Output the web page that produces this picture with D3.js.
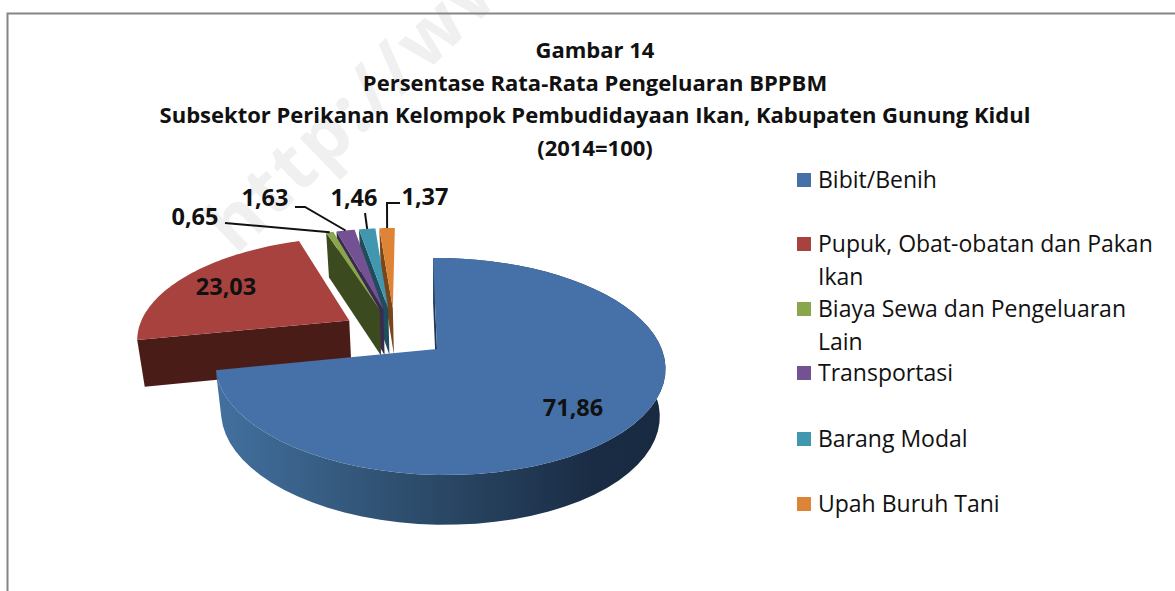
<!DOCTYPE html>
<html>
<head>
<meta charset="utf-8">
<script src="https://cdn.jsdelivr.net/npm/d3@7"></script>
<style>
  html, body { margin: 0; padding: 0; background: #fff; overflow: hidden; }
  text { font-family: "Open Sans", "Noto Sans", sans-serif; fill: #111; }
</style>
</head>
<body>
<div id="chart"></div>
<script>
var categories = ["Bibit/Benih", "Pupuk, Obat-obatan dan Pakan Ikan", "Biaya Sewa dan Pengeluaran Lain", "Transportasi", "Barang Modal", "Upah Buruh Tani"];
var values = [71.86, 23.03, 0.65, 1.63, 1.46, 1.37];
var valueLabels = ["71,86", "23,03", "0,65", "1,63", "1,46", "1,37"];
var titleLines = ["Gambar 14", "Persentase Rata-Rata Pengeluaran BPPBM", "Subsektor Perikanan Kelompok Pembudidayaan Ikan, Kabupaten Gunung Kidul", "(2014=100)"];
var legendLines = [["Bibit/Benih"], ["Pupuk, Obat-obatan dan Pakan", "Ikan"], ["Biaya Sewa dan Pengeluaran", "Lain"], ["Transportasi"], ["Barang Modal"], ["Upah Buruh Tani"]];
var topColors = ["#4570a8", "#a8423f", "#8aa64c", "#735192", "#4197b0", "#de8437"];
var wallColors = ["#1f3654", "#4a1c18", "#3c4a20", "#3a2a50", "#1f4d5c", "#7a4518"];

var width = 1175, height = 591;

var svg = d3.select("#chart").append("svg")
  .attr("width", width)
  .attr("height", height);

// Wall gradient on the big slice
var grad = svg.append("defs").append("linearGradient")
  .attr("id", "wallGrad")
  .attr("gradientUnits", "userSpaceOnUse")
  .attr("x1", 218).attr("x2", 660).attr("y1", 0).attr("y2", 0);
grad.append("stop").attr("offset", "0").attr("stop-color", "#42709f");
grad.append("stop").attr("offset", "0.4").attr("stop-color", "#2f5070");
grad.append("stop").attr("offset", "0.85").attr("stop-color", "#1a2c44");
grad.append("stop").attr("offset", "1").attr("stop-color", "#182a40");

// Watermark sits behind everything
svg.append("text")
  .attr("transform", "translate(236,256) rotate(-44)")
  .style("font-size", "74px")
  .style("font-weight", "bold")
  .style("letter-spacing", "3px")
  .style("fill", "#f0f0f0")
  .text("http://www.");

// Frame, runs off the right and bottom edges
svg.append("path")
  .attr("d", "M7.5," + height + "V13.5H" + width)
  .attr("fill", "none")
  .attr("stroke", "#858585")
  .attr("stroke-width", 2);

// Title
svg.selectAll(".title")
  .data(titleLines)
  .enter().append("text")
  .attr("class", "title")
  .attr("x", 595)
  .attr("y", function(d, i) { return 58 + i * 32.6; })
  .attr("text-anchor", "middle")
  .style("font-size", "22px")
  .style("font-weight", "bold")
  .text(function(d) { return d; });

// Perspective projection of the pie plane.
// u, v are plan coordinates with radius 1, v points away from the viewer.
var apexX = 437, apexY = 349, depth = 47;
var radiusX = 222, radiusY = 105.7, persV = 0.161, persU = -0.012, shear = -4.6;
var wallScaleX = 0.975, wallScaleY = 1.022;

function project(u, v, lower) {
  var s = 1 / (1 + persV * v + persU * u);
  return [
    apexX + (radiusX * u + shear * v) * s * (lower ? wallScaleX : 1),
    apexY - radiusY * v * s * (lower ? wallScaleY : 1) + (lower ? depth : 0)
  ];
}

var pie = d3.pie().sort(null).startAngle(0).endAngle(2 * Math.PI);
var slices = pie(values);
var explode = 0.25;
var baseAngle = (slices[0].startAngle + slices[0].endAngle) / 2;

function offsetOf(d) {
  var mid = (d.startAngle + d.endAngle) / 2;
  return [
    explode * (Math.sin(mid) - Math.sin(baseAngle)),
    explode * (Math.cos(mid) - Math.cos(baseAngle))
  ];
}

function rim(d, a, lower) {
  var o = offsetOf(d);
  return project(o[0] + Math.sin(a), o[1] + Math.cos(a), lower);
}

function apex(d, lower) {
  var o = offsetOf(d);
  return project(o[0], o[1], lower);
}

var line = d3.line();

function topPath(d) {
  var pts = [apex(d, false)];
  d3.range(0, 61).forEach(function(i) {
    pts.push(rim(d, d.startAngle + (d.endAngle - d.startAngle) * i / 60, false));
  });
  return line(pts) + "Z";
}

function facePath(d, a) {
  return line([apex(d, false), rim(d, a, false), rim(d, a, true), apex(d, true)]) + "Z";
}

function outerPath(d) {
  var upper = [], lower = [];
  d3.range(0, 61).forEach(function(i) {
    var a = d.startAngle + (d.endAngle - d.startAngle) * i / 60;
    upper.push(rim(d, a, false));
    lower.unshift(rim(d, a, true));
  });
  return line(upper.concat(lower)) + "Z";
}

// Painter order: thin back slices right to left, then the red one, then the big one
var drawOrder = [5, 4, 3, 2, 1, 0];
var pieG = svg.append("g");

drawOrder.forEach(function(idx) {
  var d = slices[idx], g = pieG.append("g");
  g.append("path").attr("d", facePath(d, d.startAngle)).attr("fill", wallColors[idx]);
  if (idx === 0) {
    g.append("path").attr("d", outerPath(d)).attr("fill", "url(#wallGrad)");
  }
  g.append("path").attr("d", topPath(d)).attr("fill", topColors[idx]);
});

// Leader lines and labels for the thin slices
var labelPos = [[573, 408], [226, 287], [195, 217], [265, 198], [354, 198], [425, 197]];
var leaderStart = [null, null, [[225, 223]], [[295, 207], [305, 207]], [[365, 213]], [[400, 203], [387, 203]]];

leaderStart.forEach(function(pts, i) {
  if (!pts) { return; }
  var d = slices[i],
      end = rim(d, (d.startAngle + d.endAngle) / 2, false);
  svg.append("path")
    .attr("d", line(pts.concat([end])))
    .attr("fill", "none")
    .attr("stroke", "#111")
    .attr("stroke-width", 2);
});

svg.selectAll(".value")
  .data(valueLabels)
  .enter().append("text")
  .attr("class", "value")
  .attr("x", function(d, i) { return labelPos[i][0]; })
  .attr("y", function(d, i) { return labelPos[i][1] + 8; })
  .attr("text-anchor", "middle")
  .style("font-size", "23.5px")
  .style("font-weight", "bold")
  .text(function(d) { return d; });

// Legend
var legendY = [180, 244, 309, 373, 439, 504];
var legend = svg.selectAll(".legend")
  .data(legendLines)
  .enter().append("g")
  .attr("class", "legend");

legend.append("rect")
  .attr("x", 797)
  .attr("y", function(d, i) { return legendY[i] - 7; })
  .attr("width", 14)
  .attr("height", 14)
  .attr("fill", function(d, i) { return topColors[i]; });

legend.each(function(d, i) {
  d3.select(this).selectAll("text")
    .data(d)
    .enter().append("text")
    .attr("x", 818)
    .attr("y", function(t, j) { return legendY[i] + 8 + j * 32.5; })
    .style("font-size", "23px")
    .text(function(t) { return t; });
});
</script>
</body>
</html>
